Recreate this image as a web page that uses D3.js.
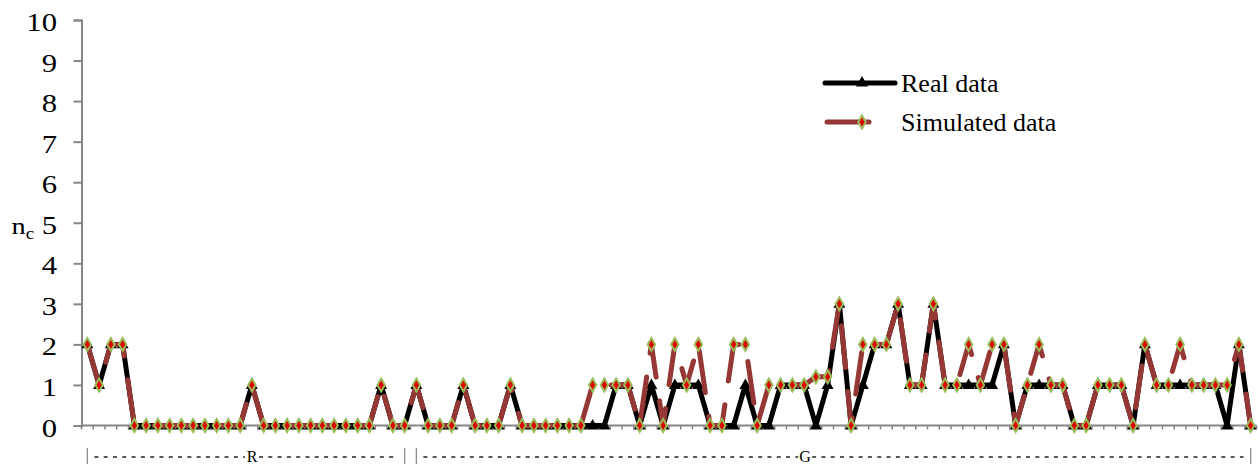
<!DOCTYPE html>
<html>
<head>
<meta charset="utf-8">
<script src="https://cdn.jsdelivr.net/npm/d3@7/dist/d3.min.js"></script>
<style>
  html, body { margin: 0; padding: 0; background: #fff; }
  svg { display: block; font-family: "Liberation Serif", "Times New Roman", serif; }
</style>
</head>
<body>
<svg id="chart" width="1258" height="465"></svg>
<script>
// Number of clusters per sample, observed vs. simulated
const realData = [
  2, 1, 2, 2, 0, 0, 0, 0, 0, 0, 0, 0, 0, 0, 1, 0, 0, 0, 0, 0,
  0, 0, 0, 0, 0, 1, 0, 0, 1, 0, 0, 0, 1, 0, 0, 0, 1, 0, 0, 0,
  0, 0, 0, 0, 0, 1, 1, 0, 1, 0, 1, 1, 1, 0, 0, 0, 1, 0, 0, 1,
  1, 1, 0, 1, 3, 0, 1, 2, 2, 3, 1, 1, 3, 1, 1, 1, 1, 1, 2, 0,
  1, 1, 1, 1, 0, 0, 1, 1, 1, 0, 2, 1, 1, 1, 1, 1, 1, 0, 2, 0
];
const simulatedData = [
  2, 1, 2, 2, 0, 0, 0, 0, 0, 0, 0, 0, 0, 0, 1, 0, 0, 0, 0, 0,
  0, 0, 0, 0, 0, 1, 0, 0, 1, 0, 0, 0, 1, 0, 0, 0, 1, 0, 0, 0,
  0, 0, 0, 1, 1, 1, 1, 0, 2, 0, 2, 1, 2, 0, 0, 2, 2, 0, 1, 1,
  1, 1, 1.2, 1.2, 3, 0, 2, 2, 2, 3, 1, 1, 3, 1, 1, 2, 1, 2, 2, 0,
  1, 2, 1, 1, 0, 0, 1, 1, 1, 0, 2, 1, 1, 2, 1, 1, 1, 1, 2, 0
];
const yTicks = [0, 1, 2, 3, 4, 5, 6, 7, 8, 9, 10];
// Sample groups along the x axis: first and last sample index of each
const groups = [
  { name: "R", first: 0, last: 27 },
  { name: "G", first: 28, last: 99 }
];
const seriesNames = ["Real data", "Simulated data"];

const serif = "Liberation Serif, Times New Roman, serif";
const svg = d3.select("#chart");
const plotLeft = 81.5, plotRight = 1256.5, plotTop = 20, plotBottom = 425.5;

const idx = d3.range(realData.length);
const x = d3.scaleBand().domain(idx).range([plotLeft, plotRight]).paddingInner(0).paddingOuter(0);
const cx = i => x(i) + x.bandwidth() / 2;
const y = d3.scaleLinear().domain([0, 10]).range([plotBottom, plotTop]);

const axisColor = "#868686";
// axis labels are set slightly wide
const stretch = 1.18;

// Y axis
const yAxis = svg.append("g")
  .attr("transform", `translate(${plotLeft},0)`)
  .call(d3.axisLeft(y).tickValues(yTicks).tickSize(8).tickPadding(16).tickFormat(d3.format("d")));
yAxis.attr("font-family", serif);
yAxis.select(".domain").attr("stroke", axisColor).attr("stroke-width", 2);
yAxis.selectAll(".tick line").attr("stroke", axisColor).attr("stroke-width", 2);
yAxis.selectAll(".tick text")
  .attr("fill", "#000")
  .attr("font-family", serif)
  .attr("font-size", 26)
  .attr("x", -24.5 / stretch)
  .attr("dy", 10.5)
  .attr("transform", `scale(${stretch},1)`);

// X axis: baseline with a small tick at every sample boundary
const xAxis = svg.append("g").attr("transform", `translate(0,${plotBottom})`);
xAxis.append("line")
  .attr("x1", plotLeft).attr("x2", plotRight)
  .attr("stroke", axisColor).attr("stroke-width", 2);
xAxis.selectAll("line.tk")
  .data(d3.range(realData.length + 1))
  .join("line")
  .attr("class", "tk")
  .attr("x1", i => i < realData.length ? x(i) : plotRight)
  .attr("x2", i => i < realData.length ? x(i) : plotRight)
  .attr("y1", 0).attr("y2", 4)
  .attr("stroke", axisColor).attr("stroke-width", 1.5);

// Group labels under the axis
const gl = svg.append("g").attr("class", "groups").attr("font-family", serif);
const labelY = 457;
groups.forEach(g => {
  const x0 = cx(g.first), x1 = cx(g.last);
  [x0, x1].forEach(bx => {
    gl.append("line").attr("x1", bx).attr("x2", bx)
      .attr("y1", labelY - 9).attr("y2", labelY + 7)
      .attr("stroke", "#8c8c8c").attr("stroke-width", 1.3);
  });
  const mid = g.name === "R" ? (x0 + x1) / 2 + 6 : x0 + (x1 - x0) * 0.466;
  gl.append("text")
    .attr("x", mid)
    .attr("y", labelY + 5)
    .attr("text-anchor", "middle")
    .attr("font-size", 16)
    .attr("fill", "#000")
    .text(g.name);
  const half = 6;
  [[x0 + 7, mid - half - 1], [mid + half + 1, x1 - 7]].forEach(([a, b]) => {
    gl.append("line").attr("x1", a).attr("x2", b)
      .attr("y1", labelY).attr("y2", labelY)
      .attr("stroke", "#222").attr("stroke-width", 1.4)
      .attr("stroke-dasharray", "4,5.3");
  });
});

// Axis title n_c
const title = svg.append("text")
  .attr("x", 11.5 / stretch).attr("y", 234)
  .attr("transform", `scale(${stretch},1)`)
  .attr("font-family", serif)
  .attr("font-size", 24).attr("fill", "#000");
title.append("tspan").text("n");
title.append("tspan").attr("font-size", 16).attr("dy", 5).text("c");

const line = d3.line().x((d, i) => cx(i)).y(d => y(d));

const realColor = "#000";
const simColor = "#953735";
const dash = "42,24";

const tri = d3.symbol().type(d3.symbolTriangle).size(62);
const dia = d3.symbol().type(d3.symbolDiamond).size(48);

// Real data series
svg.append("path")
  .datum(realData)
  .attr("d", line)
  .attr("fill", "none")
  .attr("stroke", realColor)
  .attr("stroke-width", 5)
  .attr("stroke-linejoin", "round");
svg.append("g").selectAll("path")
  .data(realData)
  .join("path")
  .attr("d", tri)
  .attr("transform", (d, i) => `translate(${cx(i)},${y(d) + 0.5})`)
  .attr("fill", realColor);

// Simulated data series
svg.append("path")
  .datum(simulatedData)
  .attr("d", line)
  .attr("fill", "none")
  .attr("stroke", simColor)
  .attr("stroke-width", 5)
  .attr("stroke-linecap", "round")
  .attr("stroke-linejoin", "round")
  .attr("stroke-dasharray", dash);
svg.append("g").selectAll("path")
  .data(simulatedData)
  .join("path")
  .attr("d", dia)
  .attr("transform", (d, i) => `translate(${cx(i)},${y(d)})`)
  .attr("fill", "#dd0000")
  .attr("stroke", "#9bbb59")
  .attr("stroke-width", 2);

// Legend
const legend = svg.append("g").attr("class", "legend").attr("font-family", serif);
const lgX0 = 825, lgX1 = 895, lgText = 901;
const rows = [83, 122];

legend.append("line")
  .attr("x1", lgX0).attr("x2", lgX1).attr("y1", rows[0]).attr("y2", rows[0])
  .attr("stroke", realColor).attr("stroke-width", 5).attr("stroke-linecap", "round");
legend.append("path").attr("d", tri)
  .attr("transform", `translate(${(lgX0 + lgX1) / 2 + 2},${rows[0]})`)
  .attr("fill", realColor);
legend.append("line")
  .attr("x1", lgX0 + 2).attr("x2", lgX1 - 3).attr("y1", rows[1]).attr("y2", rows[1])
  .attr("stroke", simColor).attr("stroke-width", 5).attr("stroke-linecap", "round")
  .attr("stroke-dasharray", dash);
legend.append("path").attr("d", dia)
  .attr("transform", `translate(${(lgX0 + lgX1) / 2 + 2},${rows[1]})`)
  .attr("fill", "#dd0000").attr("stroke", "#9bbb59").attr("stroke-width", 2);
legend.selectAll("text")
  .data(seriesNames)
  .join("text")
  .attr("x", lgText)
  .attr("y", (d, i) => rows[i] + 9)
  .attr("font-size", 26)
  .attr("fill", "#000")
  .text(d => d);
</script>
</body>
</html>
